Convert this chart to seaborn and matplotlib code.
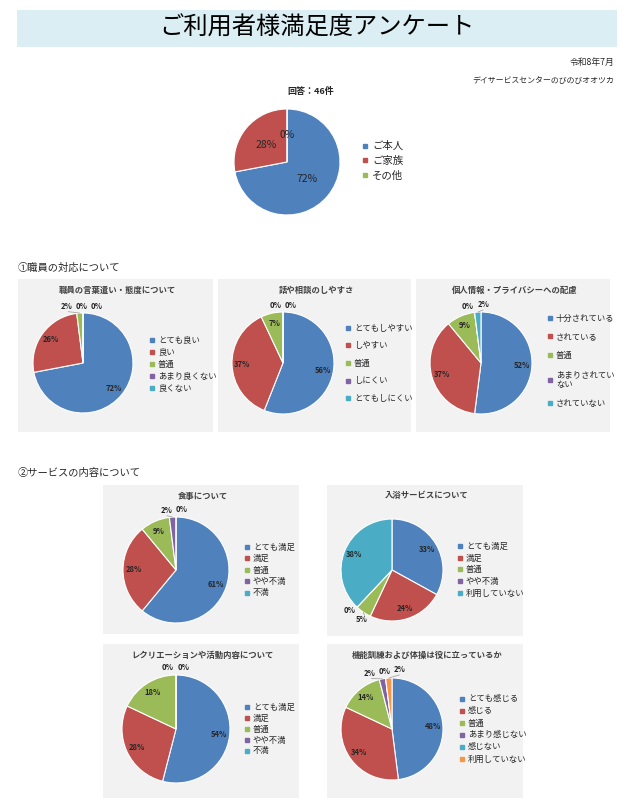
import numpy as np
import matplotlib
matplotlib.use("Agg")
import matplotlib.pyplot as plt
from matplotlib.lines import Line2D
from matplotlib.patches import Rectangle
import seaborn as sns

# survey data (percent)
excel_colors = ["#4f81bd", "#c0504d", "#9bbb59", "#8064a2", "#4bacc6", "#f79646"]

top_labels = ["ご本人", "ご家族", "その他"]
top_values = [72, 28, 0]

staff_labels = ["とても良い", "良い", "普通", "あまり良くない", "良くない"]
staff_values = [72, 26, 2, 0, 0]

talk_labels = ["とてもしやすい", "しやすい", "普通", "しにくい", "とてもしにくい"]
talk_values = [56, 37, 7, 0, 0]

privacy_labels = ["十分されている", "されている", "普通", "あまりされてい\nない", "されていない"]
privacy_values = [52, 37, 9, 0, 2]

meal_labels = ["とても満足", "満足", "普通", "やや不満", "不満"]
meal_values = [61, 28, 9, 2, 0]

bath_labels = ["とても満足", "満足", "普通", "やや不満", "利用していない"]
bath_values = [33, 24, 5, 0, 38]

rec_labels = ["とても満足", "満足", "普通", "やや不満", "不満"]
rec_values = [54, 28, 18, 0, 0]

training_labels = ["とても感じる", "感じる", "普通", "あまり感じない", "感じない", "利用していない"]
training_values = [48, 34, 14, 2, 0, 2]

W, H = 627, 809

sns.set_theme(style="white")
plt.rcParams["font.family"] = ["Noto Sans CJK JP", "DejaVu Sans"]

fig = plt.figure(figsize=(W / 100, H / 100), dpi=100)
fig.patch.set_facecolor("white")


def fx(x):
    return x / W


def fy(y):
    return 1 - y / H


def pie_axes(cx, cy, r):
    R = r * 1.02
    ax = fig.add_axes([fx(cx - R), fy(cy + R), 2 * R / W, 2 * R / H])
    return ax


def draw_pie(ax, values, pctdistance, fontsize, weight, small=5, outside=True):
    colors = excel_colors[:len(values)]
    wedges, _ = ax.pie(values, colors=colors, startangle=90, counterclock=False,
                       wedgeprops=dict(edgecolor="white", linewidth=0.8))
    ax.set_xlim(-1.02, 1.02)
    ax.set_ylim(-1.02, 1.02)
    ax.set_aspect("equal")
    ax.axis("off")
    smalls = []
    for w, v in zip(wedges, values):
        mid = np.deg2rad((w.theta1 + w.theta2) / 2)
        if outside and v <= small:
            smalls.append([mid, v])
        else:
            ax.text(pctdistance * np.cos(mid), pctdistance * np.sin(mid), f"{v}%",
                    ha="center", va="center", fontsize=fontsize, fontweight=weight,
                    color="#262626")
    # group small labels and spread them along the rim
    groups = []
    for s in smalls:
        if groups:
            last = groups[-1][-1]
            p0 = np.array([np.cos(last[0]), np.sin(last[0])])
            p1 = np.array([np.cos(s[0]), np.sin(s[0])])
            if np.linalg.norm(p0 - p1) < 0.3:
                groups[-1].append(s)
                continue
        groups.append([s])
    gap = 0.3
    for g in groups:
        m = np.mean([a for a, _ in g])
        base = 1.13 * np.array([np.cos(m), np.sin(m)])
        tang = np.array([np.sin(m), -np.cos(m)])
        n = len(g)
        for i, (a, v) in enumerate(g):
            pos = base + tang * gap * (i - (n - 1) / 2)
            if v > 0:
                edge = np.array([np.cos(a), np.sin(a)])
                tip = pos - 0.1 * pos / np.linalg.norm(pos)
                ax.plot([edge[0], tip[0]], [edge[1], tip[1]], color="#a6a6a6",
                        lw=0.6, clip_on=False)
            ax.text(pos[0], pos[1], f"{v}%", ha="center", va="center",
                    fontsize=fontsize, fontweight=weight, color="#262626")
    return colors


def add_legend(ax, labels, colors, x, y, fontsize, spacing, msize=3):
    handles = [Line2D([], [], marker="s", linestyle="none", markersize=msize,
                      color=c) for c in colors]
    ax.legend(handles, labels, loc="upper left", bbox_to_anchor=(fx(x), fy(y)),
              bbox_transform=fig.transFigure, frameon=False, fontsize=fontsize,
              handlelength=0.5, handletextpad=0.45, labelspacing=spacing,
              borderpad=0, borderaxespad=0, labelcolor="#262626")


def panel(x0, y0, x1, y1, title, title_y):
    bg = fig.add_axes([fx(x0), fy(y1), (x1 - x0) / W, (y1 - y0) / H])
    bg.set_facecolor("#f2f2f2")
    bg.set_xticks([])
    bg.set_yticks([])
    for s in bg.spines.values():
        s.set_visible(False)
    fig.text(fx((x0 + x1) / 2 + 2), fy(title_y), title, ha="center", va="center",
             fontsize=6, fontweight="bold", color="#404040")


# banner
fig.patches.append(Rectangle((fx(17), fy(47)), (617 - 17) / W, 37 / H,
                             transform=fig.transFigure, facecolor="#daeef3",
                             edgecolor="none", zorder=0))
fig.text(fx(317), fy(28), "ご利用者様満足度アンケート", ha="center", va="center",
         fontsize=17.5, color="black")
fig.text(fx(614), fy(62), "令和8年7月", ha="right", va="center", fontsize=6.3)
fig.text(fx(614), fy(81), "デイサービスセンターのびのびオオツカ", ha="right",
         va="center", fontsize=5.7)

# respondents pie
fig.text(fx(311), fy(91), "回答：46件", ha="center", va="center", fontsize=6.5,
         fontweight="bold")
ax = pie_axes(287, 162, 53)
cols = draw_pie(ax, top_values, 0.5, 7.5, "normal", outside=False)
add_legend(ax, top_labels, cols, 362, 141, 7.5, 0.45, msize=3.5)

# section 1
fig.text(fx(18), fy(268), "①職員の対応について", ha="left", va="center", fontsize=7.4)

panel(18, 279, 213, 432, "職員の言葉遣い・態度について", 290)
ax = pie_axes(83, 363, 50)
cols = draw_pie(ax, staff_values, 0.8, 5.5, "bold")
add_legend(ax, staff_labels, cols, 150, 335.5, 6, 0.38)

panel(218, 279, 411, 432, "話や相談のしやすさ", 290)
ax = pie_axes(283, 363, 51)
cols = draw_pie(ax, talk_values, 0.8, 5.5, "bold")
add_legend(ax, talk_labels, cols, 346, 323.5, 6, 1.04)

panel(416, 279, 610, 432, "個人情報・プライバシーへの配慮", 290)
ax = pie_axes(481, 363, 51)
cols = draw_pie(ax, privacy_values, 0.8, 5.5, "bold")
add_legend(ax, privacy_labels, cols, 548, 313.5, 6, 1.18)

# section 2
fig.text(fx(18), fy(473), "②サービスの内容について", ha="left", va="center", fontsize=7.4)

panel(103, 485, 299, 634, "食事について", 497)
ax = pie_axes(176, 570, 53)
cols = draw_pie(ax, meal_values, 0.8, 5.5, "bold")
add_legend(ax, meal_labels, cols, 245, 542.5, 6, 0.3)

panel(327, 485, 523, 636, "入浴サービスについて", 495)
ax = pie_axes(392, 570, 51)
cols = draw_pie(ax, bath_values, 0.8, 5.5, "bold")
add_legend(ax, bath_labels, cols, 458, 541.5, 6, 0.35)

panel(103, 644, 299, 798, "レクリエーションや活動内容について", 655)
ax = pie_axes(176, 729, 54)
cols = draw_pie(ax, rec_values, 0.8, 5.5, "bold")
add_legend(ax, rec_labels, cols, 245, 702.5, 6, 0.24)

panel(327, 644, 523, 798, "機能訓練および体操は役に立っているか", 655)
ax = pie_axes(392, 729, 51)
cols = draw_pie(ax, training_values, 0.8, 5.5, "bold")
add_legend(ax, training_labels, cols, 460, 694.5, 6, 0.36)

fig.savefig("out.png", dpi=100, facecolor="white")
